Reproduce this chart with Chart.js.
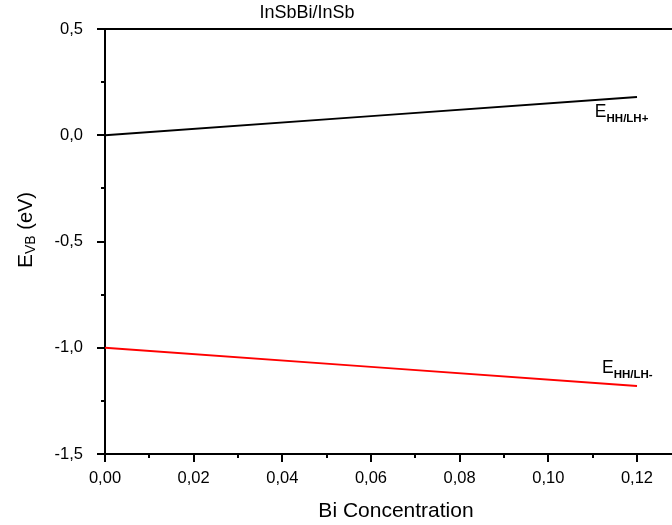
<!DOCTYPE html>
<html>
<head>
<meta charset="utf-8">
<script src="https://cdn.jsdelivr.net/npm/chart.js@4.4.0/dist/chart.umd.min.js"></script>
<style>
  html, body { margin: 0; padding: 0; background: #fff; }
  #wrap { width: 672px; height: 525px; }
</style>
</head>
<body>
<div id="wrap"><canvas id="chart" width="672" height="525"></canvas></div>
<script>
// Bi concentration (x) and valence band edge energies (eV)
const biConc = [0, 0.06, 0.12];
const eHHLHplus = [0, 0.09, 0.18];
const eHHLHminus = [-1.0, -1.09, -1.18];

// axis ranges and tick steps
const xRange = [0, 0.1279];
const yRange = [-1.5, 0.5];
const xStep = 0.01;
const yStep = 0.25;

const FONT = "'Liberation Sans', Arial, sans-serif";

// comma decimal labels, only every second tick (majors) gets a label
function commaLabel(value, digits, step) {
  const idx = Math.round(value / step);
  if (idx % 2 !== 0) return '';
  return value.toFixed(digits).replace('.', ',');
}

// Helper: draws text with a subscript
function drawSubText(ctx, x, y, main, sub, mainSize, subSize, subDrop, subBold) {
  ctx.font = mainSize + 'px ' + FONT;
  ctx.fillText(main, x, y);
  const w = ctx.measureText(main).width;
  ctx.font = (subBold ? 'bold ' : '') + subSize + 'px ' + FONT;
  ctx.fillText(sub, x + w, y + subDrop);
}

// Plugin: outward ticks (major/minor), top frame line and all titles/labels
const decorPlugin = {
  id: 'decor',
  afterDraw(chart) {
    const ctx = chart.ctx;
    const area = chart.chartArea;
    const xs = chart.scales.x;
    const ys = chart.scales.y;
    ctx.save();
    ctx.strokeStyle = '#000';
    ctx.lineWidth = 2;

    // top frame line
    ctx.beginPath();
    ctx.moveTo(area.left - 1, area.top);
    ctx.lineTo(area.right, area.top);
    ctx.stroke();

    // x ticks
    xs.ticks.forEach(t => {
      const px = Math.round(xs.getPixelForValue(t.value));
      const major = Math.round(t.value / xStep) % 2 === 0;
      ctx.beginPath();
      ctx.moveTo(px, area.bottom);
      ctx.lineTo(px, area.bottom + (major ? 8 : 4));
      ctx.stroke();
    });
    // y ticks
    ys.ticks.forEach(t => {
      const py = Math.round(ys.getPixelForValue(t.value));
      const major = Math.round(t.value / yStep) % 2 === 0;
      ctx.beginPath();
      ctx.moveTo(area.left, py);
      ctx.lineTo(area.left - (major ? 8 : 4), py);
      ctx.stroke();
    });

    ctx.fillStyle = '#000';
    ctx.textBaseline = 'alphabetic';

    // chart title
    ctx.font = '18px ' + FONT;
    ctx.textAlign = 'center';
    ctx.fillText('InSbBi/InSb', 307, 18);

    // x axis title
    ctx.font = '21px ' + FONT;
    ctx.fillText('Bi Concentration', 396, 517);

    // y axis title, rotated, with subscript
    ctx.save();
    ctx.translate(32, 268);
    ctx.rotate(-Math.PI / 2);
    ctx.textAlign = 'left';
    ctx.font = '21px ' + FONT;
    ctx.fillText('E', 0, 0);
    let w = ctx.measureText('E').width;
    ctx.font = '14px ' + FONT;
    ctx.fillText('VB', w, 3);
    w += ctx.measureText('VB').width;
    ctx.font = '20px ' + FONT;
    ctx.fillText(' (eV)', w, 0);
    ctx.restore();

    // curve labels, placed in data space
    ctx.textAlign = 'left';
    drawSubText(ctx, xs.getPixelForValue(0.1105), ys.getPixelForValue(0.088),
      'E', 'HH/LH+', 17.5, 11.5, 5, true);
    drawSubText(ctx, xs.getPixelForValue(0.1121), ys.getPixelForValue(-1.12),
      'E', 'HH/LH-', 17.5, 11.5, 5, true);

    ctx.restore();
  }
};

new Chart(document.getElementById('chart'), {
  type: 'line',
  data: {
    datasets: [
      {
        label: 'E HH/LH+',
        data: biConc.map((x, i) => ({ x: x, y: eHHLHplus[i] })),
        borderColor: '#000000',
        borderWidth: 2,
        pointRadius: 0,
        fill: false
      },
      {
        label: 'E HH/LH-',
        data: biConc.map((x, i) => ({ x: x, y: eHHLHminus[i] })),
        borderColor: '#ff0000',
        borderWidth: 2,
        pointRadius: 0,
        fill: false
      }
    ]
  },
  options: {
    responsive: false,
    animation: false,
    layout: { padding: { top: 29, right: 0, left: 0, bottom: 0 } },
    plugins: {
      legend: { display: false },
      tooltip: { enabled: false },
      title: { display: false }
    },
    scales: {
      x: {
        type: 'linear',
        min: xRange[0],
        max: xRange[1],
        afterFit(scale) { scale.height = 71; },
        grid: { display: false },
        border: { display: true, color: '#000', width: 2 },
        ticks: {
          stepSize: xStep,
          includeBounds: false,
          autoSkip: false,
          maxRotation: 0,
          padding: 7,
          color: '#000',
          font: { family: FONT, size: 16.5 },
          callback: v => commaLabel(v, 2, xStep)
        }
      },
      y: {
        type: 'linear',
        min: yRange[0],
        max: yRange[1],
        afterFit(scale) { scale.width = 105; },
        grid: { display: false },
        border: { display: true, color: '#000', width: 2 },
        ticks: {
          stepSize: yStep,
          includeBounds: false,
          autoSkip: false,
          padding: 14,
          color: '#000',
          font: { family: FONT, size: 16.5 },
          callback: v => commaLabel(v, 1, yStep)
        }
      }
    }
  },
  plugins: [decorPlugin]
});
</script>
</body>
</html>
